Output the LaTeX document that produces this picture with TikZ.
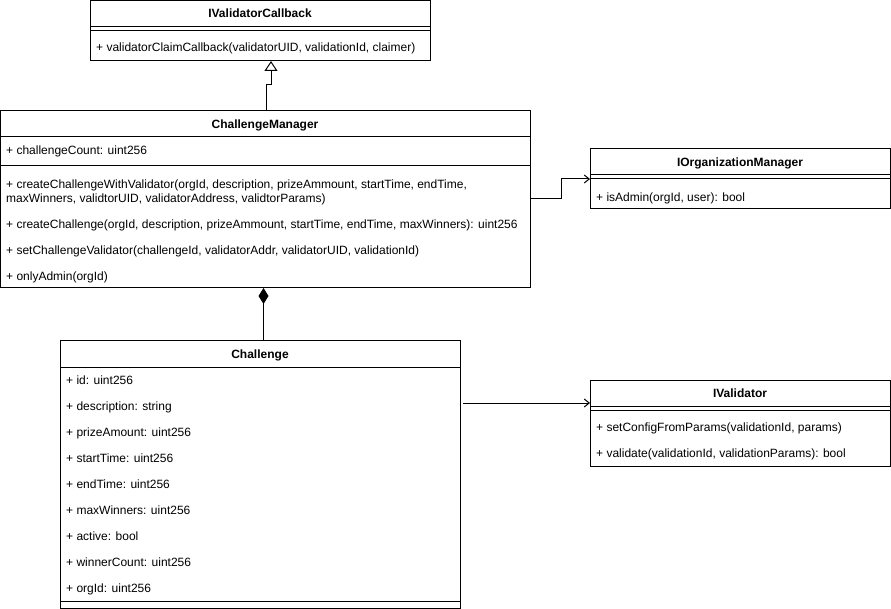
\documentclass[tikz,border=0pt]{standalone}
\usepackage{fontspec}
\setmainfont{Liberation Sans}
\usetikzlibrary{arrows.meta}
\begin{document}
\begin{tikzpicture}[x=1pt,y=-1pt,
  cls/.style={draw, line width=1pt, anchor=north west, inner sep=0pt, outer sep=0pt},
  ttl/.style={anchor=base, inner sep=0pt, font=\fontsize{12}{14}\selectfont\bfseries},
  mem/.style={anchor=base west, inner sep=0pt, font=\fontsize{12}{14}\selectfont},
  sep/.style={line width=1pt},
  conn/.style={line width=1pt},
  realize/.style={conn, -{Triangle[open, length=10pt, width=13pt, fill=white]}},
  depend/.style={conn, -{Straight Barb[length=5pt, width=8pt]}},
  compose/.style={conn, -{Diamond[length=16pt, width=10pt, fill=black]}}
]
\useasboundingbox (0,0) rectangle (891,609);

% IValidatorCallback
\node[cls, minimum width=340pt, minimum height=60pt] (ivc) at (90,1) {};
\draw[sep] (90,27) -- (430,27);
\draw[sep] (90,31) -- (430,31);
\node[ttl] (ivcT) at (260,18) {IValidatorCallback};
\node[mem] (ivcM1) at (96,51.5) {+ validatorClaimCallback(validatorUID, validationId, claimer)};

% ChallengeManager
\node[cls, minimum width=529.5pt, minimum height=177pt] (cm) at (0.5,111) {};
\draw[sep] (0.5,137) -- (530,137);
\draw[sep] (0.5,166) -- (530,166);
\node[ttl] (cmT) at (265,128.5) {ChallengeManager};
\node[mem] (cmA1) at (6,155) {+ challengeCount: uint256};
\node[mem] (cmM1) at (6,189) {+ createChallengeWithValidator(orgId, description, prizeAmmount, startTime, endTime,};
\node[mem] (cmM1b) at (6,202.5) {maxWinners, validtorUID, validatorAddress, validtorParams)};
\node[mem] (cmM2) at (6,228.5) {+ createChallenge(orgId, description, prizeAmmount, startTime, endTime, maxWinners): uint256};
\node[mem] (cmM3) at (6,254.5) {+ setChallengeValidator(challengeId, validatorAddr, validatorUID, validationId)};
\node[mem] (cmM4) at (6,280.5) {+ onlyAdmin(orgId)};

% IOrganizationManager
\node[cls, minimum width=300pt, minimum height=60pt] (iom) at (590,149) {};
\draw[sep] (590,175) -- (890,175);
\draw[sep] (590,179) -- (890,179);
\node[ttl] (iomT) at (740,166.5) {IOrganizationManager};
\node[mem] (iomM1) at (596,201.5) {+ isAdmin(orgId, user): bool};

% Challenge
\node[cls, minimum width=400pt, minimum height=267pt] (ch) at (60,341) {};
\draw[sep] (60,367) -- (460,367);
\draw[sep] (60,601) -- (460,601);
\node[ttl] (chT) at (260,358.5) {Challenge};
\node[mem] (chA1) at (66,384.5) {+ id: uint256};
\node[mem] (chA2) at (66,410.5) {+ description: string};
\node[mem] (chA3) at (66,436.5) {+ prizeAmount: uint256};
\node[mem] (chA4) at (66,462.5) {+ startTime: uint256};
\node[mem] (chA5) at (66,488.5) {+ endTime: uint256};
\node[mem] (chA6) at (66,514.5) {+ maxWinners: uint256};
\node[mem] (chA7) at (66,540.5) {+ active: bool};
\node[mem] (chA8) at (66,566.5) {+ winnerCount: uint256};
\node[mem] (chA9) at (66,592.5) {+ orgId: uint256};

% IValidator
\node[cls, minimum width=300pt, minimum height=86.5pt] (iv) at (590,380) {};
\draw[sep] (590,406) -- (890,406);
\draw[sep] (590,410.5) -- (890,410.5);
\node[ttl] (ivT) at (740,397.5) {IValidator};
\node[mem] (ivM1) at (596,431.5) {+ setConfigFromParams(validationId, params)};
\node[mem] (ivM2) at (596,457.5) {+ validate(validationId, validationParams): bool};

% Connectors
\coordinate (j1) at (266,85);
\coordinate (j2) at (271,85);
\draw[realize] (cm.north -| j1) -- (j1) -- (j2) -- (ivc.south -| j2);

\coordinate (d1) at (561,199);
\coordinate (d2) at (561,179);
\draw[depend] (cm.east |- d1) -- (d1) -- (d2) -- (iom.west |- d2);

\coordinate (c1) at (263.5,341);
\draw[compose] (ch.north -| c1) -- (cm.south -| c1);

\coordinate (a1) at (463,403);
\draw[depend] (a1) -- (iv.west |- a1);
\end{tikzpicture}
\end{document}
